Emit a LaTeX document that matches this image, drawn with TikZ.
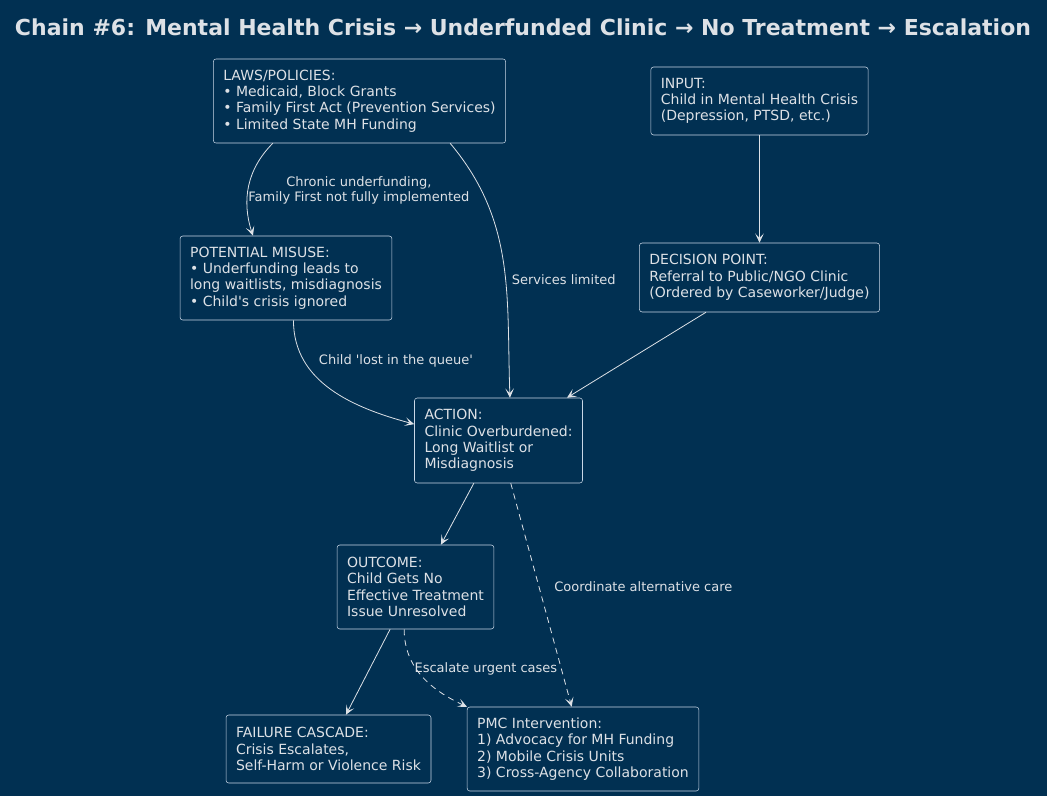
\documentclass[tikz,border=0pt]{standalone}
\usepackage{fontspec}
\setmainfont{DejaVu Sans}
\usetikzlibrary{arrows.meta}

\definecolor{bgblue}{HTML}{013052}
\definecolor{txtgray}{HTML}{DDE1E6}
\definecolor{boxline}{HTML}{C9D7E6}

\begin{document}
\begin{tikzpicture}[x=0.75pt, y=0.75pt,
	box/.style={draw=boxline, rounded corners=2pt, text=txtgray, align=left, inner xsep=7.5pt, inner ysep=0pt, font=\fontsize{10.5}{12.25}\selectfont},
	arr/.style={-{Stealth[length=7pt,width=6.5pt,inset=3.5pt]}, draw=txtgray, line width=0.6pt},
	dsh/.style={dash pattern=on 4.5pt off 3.5pt},
	lbl/.style={text=txtgray, font=\fontsize{9.75}{11.25}\selectfont}]
	
	\fill[bgblue] (0,0) rectangle (1047,-796);
	\useasboundingbox (0,0) rectangle (1047,-796);
	
	\node[text=txtgray, font=\fontsize{16.5}{19}\selectfont\bfseries] (title) at (523,-27)
		{Chain \#6: Mental Health Crisis → Underfunded Clinic → No Treatment → Escalation};
	
	\node[box, minimum height=63pt] (laws) at (359.5,-101)
		{LAWS/POLICIES:\\• Medicaid, Block Grants\\• Family First Act (Prevention Services)\\• Limited State MH Funding};
	\node[box, minimum height=51pt] (input) at (759.5,-101)
		{INPUT:\\Child in Mental Health Crisis\\(Depression, PTSD, etc.)};
	\node[box, minimum height=63pt] (misuse) at (286,-278)
		{POTENTIAL MISUSE:\\• Underfunding leads to\\long waitlists, misdiagnosis\\• Child\textquotesingle s crisis ignored};
	\node[box, minimum height=51.75pt] (decision) at (759.5,-277.5)
		{DECISION POINT:\\Referral to Public/NGO Clinic\\(Ordered by Caseworker/Judge)};
	\node[box, minimum height=63.75pt] (action) at (498.5,-440.5)
		{ACTION:\\Clinic Overburdened:\\Long Waitlist or\\Misdiagnosis};
	\node[box, minimum height=63pt] (outcome) at (415.5,-587)
		{OUTCOME:\\Child Gets No\\Effective Treatment\\Issue Unresolved};
	\node[box, minimum height=51pt] (failure) at (328.5,-749)
		{FAILURE CASCADE:\\Crisis Escalates,\\Self-Harm or Violence Risk};
	\node[box, minimum height=63pt] (pmc) at (583,-749)
		{PMC Intervention:\\1) Advocacy for MH Funding\\2) Mobile Crisis Units\\3) Cross-Agency Collaboration};
	
	\draw[arr] (laws.206) to[out=-135, in=108] node[lbl, pos=0.5, right, align=center, xshift=-4pt, yshift=-3pt]
		{Chronic underfunding,\\Family First not fully implemented} (misuse.128);
	\draw[arr] (laws.-25) to[out=-50, in=92] node[lbl, pos=0.55, right, xshift=1.5pt, yshift=-4pt]
		{Services limited} (action.75);
	\draw[arr] (input) -- (decision);
	\draw[arr] (decision.213) -- (action.32);
	\draw[arr] (misuse.-80) to[out=-90, in=165] node[lbl, pos=0.3, right, xshift=4.5pt, yshift=4.5pt]
		{Child \textquotesingle lost in the queue\textquotesingle} (action.169);
	\draw[arr] (action.240) -- (outcome.59);
	\draw[arr, dsh] (action.-74) -- node[lbl, pos=0.46, right, xshift=8pt, yshift=-0.5pt]
		{Coordinate alternative care} (pmc.105);
	\draw[arr] (outcome.-121) -- (failure.63);
	\draw[arr, dsh] (outcome.-105) to[out=-90, in=155] node[lbl, pos=0.45, right, xshift=-7pt, yshift=3pt]
		{Escalate urgent cases} (pmc.160);
	
\end{tikzpicture}
\end{document}
